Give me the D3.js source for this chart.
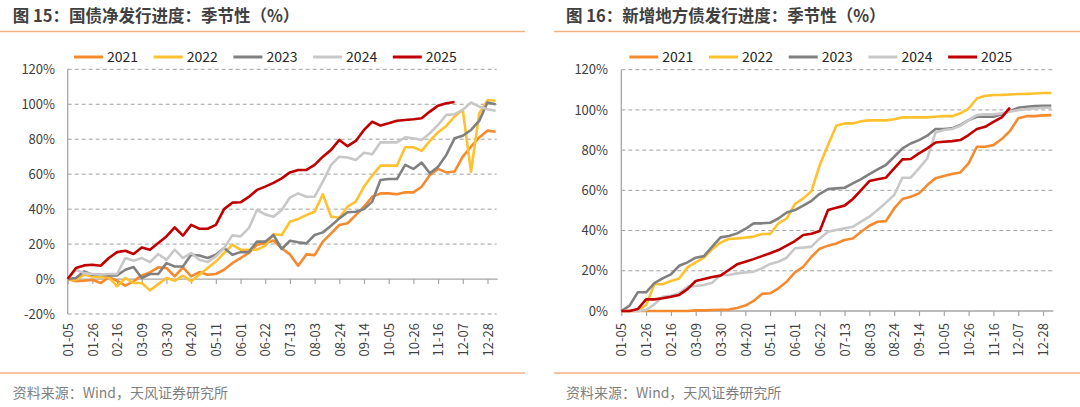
<!DOCTYPE html>
<html><head><meta charset="utf-8">
<script src="https://cdn.jsdelivr.net/npm/d3@7"></script>
<style>body{margin:0;background:#fff} svg{display:block}</style>
</head><body><svg id="c" width="1080" height="407"></svg>
<script>
// ---------- data ----------
const categories = ["01-05","01-12","01-19","01-26","02-02","02-09","02-16","02-23","03-02","03-09","03-16","03-23","03-30","04-06","04-13","04-20","04-27","05-04","05-11","05-18","05-25","06-01","06-08","06-15","06-22","06-29","07-06","07-13","07-20","07-27","08-03","08-10","08-17","08-24","08-31","09-07","09-14","09-21","09-28","10-05","10-12","10-19","10-26","11-02","11-09","11-16","11-23","11-30","12-07","12-14","12-21","12-28","12-31"];
const tickLabels = ["01-05","01-26","02-16","03-09","03-30","04-20","05-11","06-01","06-22","07-13","08-03","08-24","09-14","10-05","10-26","11-16","12-07","12-28"];
const years = ["2021","2022","2023","2024","2025"];
const leftYTicks = [-20,0,20,40,60,80,100,120];
const rightYTicks = [0,20,40,60,80,100,120];
const leftTitle = "图 15：国债净发行进度：季节性（%）";
const rightTitle = "图 16：新增地方债发行进度：季节性（%）";
const sourceText = "资料来源：Wind，天风证券研究所";

// 国债净发行进度 (%)
const gov2021 = [0,-1.3,-1,-0.4,-2.3,1,-1,-3.8,-1.3,2.1,3.8,6.7,6.3,1.5,6.7,1.5,4,2.5,2.9,5.3,9.1,12,14.9,19.6,20.5,22,17.6,14.1,7.6,14.1,13.7,21.4,26.1,30.9,31.9,36.6,41.4,47.1,49,49,48.5,49.6,49.6,52.8,59.5,63,61,61.5,70,75.7,81,84.9,84.3];
const gov2022 = [0,-0.5,2.5,1.5,1,1,-4.2,0.6,-2.3,-2.3,-6.5,-2.9,0.6,-1,1.9,-1.3,2.5,6.3,10,14.9,19.6,16.8,16.8,16.8,19,25.6,25.2,32.8,34.4,36.6,38.5,48.5,35.7,35.1,41.4,44.3,52.9,59.2,64.9,64.9,64.9,75.4,75.4,73.3,79,84,87.6,93,96.8,61.4,94.8,102.4,102];
const gov2023 = [0,0.6,4.4,2.5,2.5,2.1,2.1,5.3,6.9,0.6,2.9,2.9,9.1,7.2,7.2,13.9,13.5,12,13.9,17.7,13.9,15.4,15.4,21.5,21.4,25.2,17.2,21.9,21,20.4,25.2,26.7,30.5,34.7,38.2,38.5,40,44.3,56.7,57.2,57.2,65.3,63,66.6,60.5,64.3,71,80.5,82,85.3,90.5,101,100];
const gov2024 = [0,5.3,3.4,2.9,2.5,2.9,2.9,12,10.5,12,9.7,14.3,11,16.8,12,14.9,11,9.7,13,17.7,25,24.4,29.1,39.5,37,35.7,39.5,46.6,49,47.1,47.1,55.7,65.3,70,69.5,68.1,72.3,71.4,78.2,78.2,78.2,81.1,80.5,79.6,83.4,88.2,93.9,94.3,96.8,101,98.6,97.1,96.3];
const gov2025 = [0,6.3,7.8,8.2,7.6,12,15.4,16.2,14.3,18.1,16.8,20.6,24.4,29.5,24.8,31,28.8,28.8,31,40,43.7,43.9,47,51,52.9,55,57.6,61,62.4,62.4,65.3,70,73.9,79.6,76,79,85.3,90,87.8,89.1,90.6,91,91.4,92,95.8,99.2,100.6,101.3];

// 新增地方债发行进度 (%)
const loc2021 = [0,0,0,0,0,0,0,0,0,0.3,0.3,0.5,0.6,0.7,1.5,2.7,5,8.5,8.8,11.3,14.6,19.2,22,27,31,32.5,33.6,35.3,36.1,39.4,42.4,44.4,44.7,51,55.7,56.8,58.5,62.6,66,67.1,68.1,68.9,73.4,81.7,81.7,82.5,85.5,89.5,95.8,96.9,96.9,97.3,97.4];
const loc2022 = [0,0,0.3,3,13.3,13.3,14.9,16.2,21.7,24.2,26.5,30.8,34,35.8,36.1,36.5,37,38.3,38.3,43.6,46,53.2,56,59.6,72.6,82.5,92.1,93.3,93.3,94.4,94.8,94.8,94.8,95.4,96.3,96.3,96.3,96.3,96.6,96.9,96.9,98.3,100.7,105.7,107,107.4,107.5,107.7,107.9,108,108.2,108.4,108.4];
const loc2023 = [0,2.7,9.3,9.3,13.9,16.2,18.2,22.5,24.2,26.5,27.3,32,36.6,37.3,38.6,40.8,43.6,43.6,43.9,46,49,50.2,52.4,54.8,58.3,60.6,61,61.3,63.5,65.6,68.1,70.4,72.6,76.7,80.9,83.3,85,87.2,90.5,90.5,90.8,92.5,94.9,96.6,96.6,96.6,97.8,99.4,101.1,101.6,101.9,102.1,102.1];
const loc2024 = [0,0,0,0.5,3.3,7.1,7.6,8.8,12.1,12.4,12.9,14.1,17.9,17.9,18.7,19.2,19.6,21.2,23.4,24.5,26.5,31.2,31.5,32,36.1,39.4,40.3,41.1,41.9,44.4,46.9,50.2,53.9,57.7,66.3,66.3,70.9,75.9,88.8,90,90.5,92.1,94.9,97.4,97.8,97.8,98.3,99.1,99.9,100.4,100.7,101.1,101.1];
const loc2025 = [0,0,1,5.8,5.8,6.3,7.1,8,10.9,14.9,15.9,16.9,17.6,20.4,23.2,24.5,25.8,27.3,28.7,30.3,32.5,34.8,37.8,38.4,39.8,50.2,51.4,52.4,55.7,60.1,64.6,65.5,66.3,70.9,75.4,75.6,78.4,80.9,83.8,84.2,84.5,85,87.5,90.5,91.6,94.1,96.3,101.1];

// ---------- style ----------
const colors = ["#F58A2E","#FFC12F","#808080","#C8C8C8","#C00000"];
const FONT = "'Noto Sans CJK SC','Noto Sans',sans-serif";
const svg = d3.select("#c");

function drawPanel(o, seriesList, yTicks) {
  const g = svg.append("g");
  // title
  g.append("text").attr("x", o.titleX).attr("y", 22).text(o.title)
    .attr("font-family", FONT).attr("font-size", 16.5).attr("font-weight", "bold").attr("fill", "#404040");
  g.append("line").attr("x1", o.lineX1).attr("x2", o.lineX2).attr("y1", 31.5).attr("y2", 31.5)
    .attr("stroke", "#F4B183").attr("stroke-width", 1.3);
  g.append("line").attr("x1", o.lineX1).attr("x2", o.lineX2).attr("y1", 373).attr("y2", 373)
    .attr("stroke", "#F4B183").attr("stroke-width", 1.3);
  g.append("text").attr("x", o.titleX).attr("y", 397.5).text(sourceText)
    .attr("font-family", FONT).attr("font-size", 14).attr("fill", "#7F7F7F");

  const x = d3.scalePoint().domain(categories).range([o.x0, o.x1]);
  const y = d3.scaleLinear().domain(o.yDomain).range([o.yBottom, o.yTop]);

  // gridlines
  g.append("g").selectAll("line").data(yTicks.filter(t => t !== 0)).join("line")
    .attr("x1", o.x0).attr("x2", o.x1 + 1).attr("y1", d => y(d)).attr("y2", d => y(d))
    .attr("stroke", "#A0A0A0").attr("stroke-width", 1).attr("stroke-dasharray", "4,3");

  // y axis labels
  const yAxis = d3.axisLeft(y).tickValues(yTicks).tickFormat(d => d + "%").tickSize(0).tickPadding(0);
  const ya = g.append("g").attr("transform", `translate(${o.yLabelX},0)`).call(yAxis);
  ya.select(".domain").remove();
  ya.selectAll("text").attr("font-family", FONT).attr("font-size", 13).attr("fill", "#404040");

  // y axis line
  g.append("line").attr("x1", o.x0).attr("x2", o.x0).attr("y1", y(o.yDomain[1])).attr("y2", y(o.yDomain[0]))
    .attr("stroke", "#A6A6A6").attr("stroke-width", 1.3);

  // x axis at 0
  const xAxis = d3.axisBottom(x).tickValues(tickLabels).tickSize(5).tickFormat("");
  const xa = g.append("g").attr("transform", `translate(0,${y(0)})`).call(xAxis);
  xa.select(".domain").attr("d", `M${o.x0},0H${o.x1 + 2}`).attr("stroke", "#A6A6A6").attr("stroke-width", 1.3);
  xa.selectAll(".tick line").attr("stroke", "#A6A6A6").attr("stroke-width", 1.2);

  // x labels rotated
  g.append("g").selectAll("text").data(tickLabels).join("text")
    .attr("transform", d => `translate(${x(d) + 0.5},${o.labelTop}) rotate(-90)`)
    .attr("text-anchor", "end").attr("dy", "0.36em").text(d => d)
    .attr("font-family", FONT).attr("font-size", 13).attr("fill", "#404040");

  // lines
  const line = d3.line().x((d, i) => x(categories[i])).y(d => y(d));
  g.append("g").selectAll("path").data(seriesList).join("path")
    .attr("d", d => line(d)).attr("fill", "none")
    .attr("stroke", (d, i) => colors[i]).attr("stroke-width", 2.6)
    .attr("stroke-linejoin", "round");

  // legend
  const lg = g.append("g").selectAll("g").data(years).join("g")
    .attr("transform", (d, i) => `translate(${o.legendX + i * 79.7},57)`);
  lg.append("line").attr("x1", 0).attr("x2", 29).attr("y1", 0).attr("y2", 0)
    .attr("stroke", (d, i) => colors[i]).attr("stroke-width", 3);
  lg.append("text").attr("x", 33).attr("y", 0).attr("dy", "0.36em").text(d => d)
    .attr("font-family", FONT).attr("font-size", 14).attr("fill", "#262626");
}

drawPanel({
  title: leftTitle, titleX: 12.7, lineX1: 0, lineX2: 525,
  x0: 67.7, x1: 495.7, yDomain: [-20, 120], yBottom: 314, yTop: 69.3,
  yLabelX: 55, labelTop: 323, legendX: 74
}, [gov2021, gov2022, gov2023, gov2024, gov2025], leftYTicks);

drawPanel({
  title: rightTitle, titleX: 566, lineX1: 554, lineX2: 1080,
  x0: 621.3, x1: 1051.3, yDomain: [0, 120], yBottom: 311, yTop: 69.7,
  yLabelX: 608, labelTop: 323, legendX: 629.3
}, [loc2021, loc2022, loc2023, loc2024, loc2025], rightYTicks);
</script></body></html>
